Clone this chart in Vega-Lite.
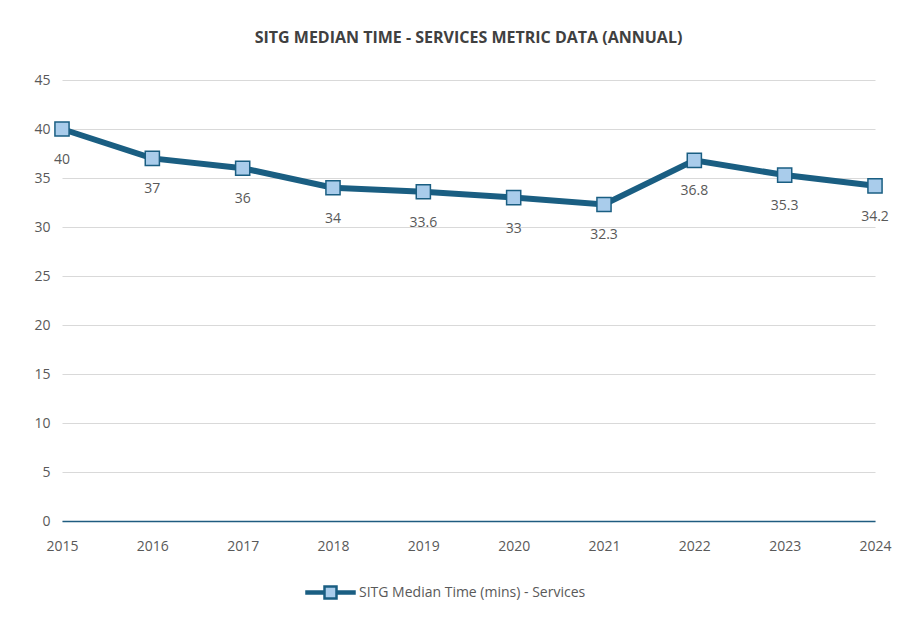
{
  "$schema": "https://vega.github.io/schema/vega-lite/v6.json",
  "width": 813,
  "height": 441,
  "autosize": "none",
  "padding": {"left": 62, "top": 80, "right": 30, "bottom": 97},
  "background": "white",
  "title": {
    "text": "SITG MEDIAN TIME - SERVICES METRIC DATA (ANNUAL)",
    "font": "Open Sans",
    "fontSize": 16,
    "fontWeight": "bold",
    "color": "#404040",
    "anchor": "middle",
    "offset": 27
  },
  "data": {
    "values": [
      {"year": "2015", "value": 40, "series": "SITG Median Time (mins) - Services"},
      {"year": "2016", "value": 37, "series": "SITG Median Time (mins) - Services"},
      {"year": "2017", "value": 36, "series": "SITG Median Time (mins) - Services"},
      {"year": "2018", "value": 34, "series": "SITG Median Time (mins) - Services"},
      {"year": "2019", "value": 33.6, "series": "SITG Median Time (mins) - Services"},
      {"year": "2020", "value": 33, "series": "SITG Median Time (mins) - Services"},
      {"year": "2021", "value": 32.3, "series": "SITG Median Time (mins) - Services"},
      {"year": "2022", "value": 36.8, "series": "SITG Median Time (mins) - Services"},
      {"year": "2023", "value": 35.3, "series": "SITG Median Time (mins) - Services"},
      {"year": "2024", "value": 34.2, "series": "SITG Median Time (mins) - Services"}
    ]
  },
  "encoding": {
    "x": {
      "field": "year", "type": "ordinal",
      "scale": {"type": "point", "padding": 0},
      "axis": {
        "title": null, "labelAngle": 0, "ticks": false, "grid": false,
        "domainColor": "#1F5C80", "domainWidth": 1.5,
        "labelFont": "Open Sans", "labelFontSize": 14, "labelColor": "#595959", "labelPadding": 18
      }
    },
    "y": {
      "field": "value", "type": "quantitative",
      "scale": {"domain": [0, 45]},
      "axis": {
        "title": null, "values": [0,5,10,15,20,25,30,35,40,45], "domain": false, "ticks": false,
        "gridColor": "#D9D9D9", "gridWidth": 1.2,
        "labelFont": "Open Sans", "labelFontSize": 14, "labelColor": "#595959", "labelPadding": 12
      }
    }
  },
  "layer": [
    {
      "mark": {"type": "line", "strokeWidth": 6, "color": "#1A5E82"},
      "encoding": {
        "color": {
          "field": "series", "type": "nominal",
          "scale": {"range": ["#1A5E82"]},
          "legend": {
            "title": null, "orient": "none", "legendX": 252, "legendY": 496,
            "symbolType": "M-1.6,-0.06H-0.4V0.06H-1.6Z M0.4,-0.06H1.6V0.06H0.4Z M-0.4,-0.4H0.4V0.4H-0.4Z",
            "symbolSize": 900, "symbolFillColor": "#A9CCEB", "symbolStrokeColor": "#1A5E82", "symbolStrokeWidth": 2.5,
            "labelFont": "Open Sans", "labelFontSize": 14, "labelColor": "#595959", "labelOffset": 12, "labelLimit": 500
          }
        }
      }
    },
    {
      "mark": {"type": "point", "shape": "square", "size": 200, "filled": true, "fill": "#A9CCEB", "stroke": "#1A5E82", "strokeWidth": 1.5, "opacity": 1}
    },
    {
      "mark": {"type": "text", "dy": 31, "font": "Open Sans", "fontSize": 14, "color": "#595959"},
      "encoding": {"text": {"field": "value", "type": "quantitative"}}
    }
  ],
  "config": {"view": {"stroke": null}}
}
